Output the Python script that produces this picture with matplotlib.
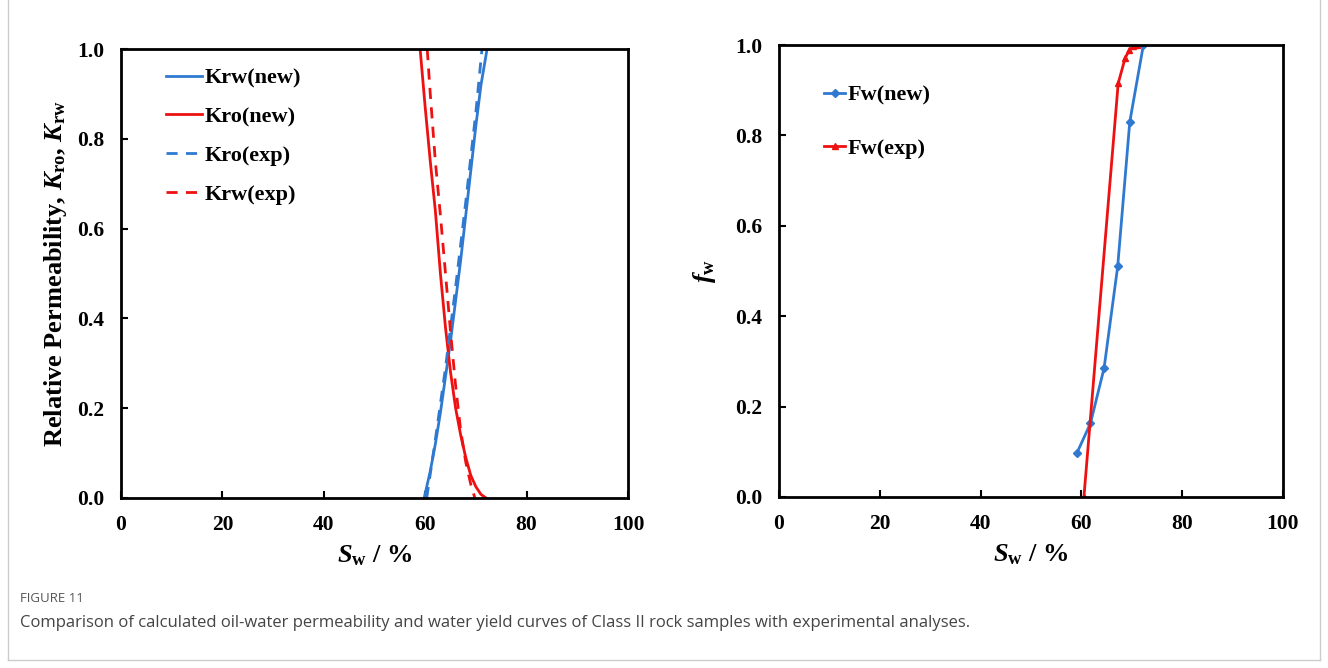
import matplotlib
matplotlib.use("Agg")
import matplotlib.pyplot as plt
from matplotlib.lines import Line2D

serif = "Liberation Serif"
plt.rcParams["mathtext.fontset"] = "custom"
plt.rcParams["mathtext.rm"] = serif + ":bold"
plt.rcParams["mathtext.it"] = serif + ":italic:bold"
plt.rcParams["mathtext.bf"] = serif + ":bold"

# Datos - permeabilidad relativa (izquierda)
sw_krw_new = [59.8, 61, 62, 63, 64, 65, 66, 67, 68, 69, 70, 71, 72.2]
krw_new = [0.0, 0.06, 0.12, 0.19, 0.27, 0.35, 0.44, 0.53, 0.63, 0.73, 0.83, 0.92, 1.0]

sw_kro_new = [59.0, 60, 61, 62, 63, 64, 65, 66, 67, 68, 69, 70, 71, 72.0]
kro_new = [1.0, 0.87, 0.75, 0.64, 0.50, 0.38, 0.28, 0.20, 0.14, 0.09, 0.05, 0.025, 0.008, 0.0]

sw_kro_exp = [60.3, 62, 64, 66, 68, 70, 71.2]
kro_exp = [0.0, 0.13, 0.29, 0.47, 0.66, 0.86, 1.0]

sw_krw_exp = [60.4, 61, 62, 63, 64, 65, 66, 67, 68, 69, 69.8]
krw_exp = [1.0, 0.9, 0.75, 0.63, 0.5, 0.37, 0.25, 0.15, 0.08, 0.03, 0.0]

# Datos - flujo fraccional (derecha)
sw_fw_new = [59.1, 61.8, 64.5, 67.2, 69.6, 72.3]
fw_new = [0.097, 0.163, 0.285, 0.51, 0.83, 1.0]

sw_fw_exp = [60.5, 67.3, 68.7, 69.5, 70.3, 71.0]
fw_exp = [0.0, 0.915, 0.972, 0.988, 0.997, 1.0]

xticks = [0, 20, 40, 60, 80, 100]
yticks = [0.0, 0.2, 0.4, 0.6, 0.8, 1.0]

azul = "#2f7ad0"
rojo = "#ee1111"

fig = plt.figure(figsize=(13.28, 6.68), dpi=100)
ax1 = fig.add_axes([0.0911, 0.2545, 0.3818, 0.672])
ax2 = fig.add_axes([0.5866, 0.256, 0.3795, 0.6766])

ax1.plot(sw_krw_new, krw_new, color=azul, lw=2, label="Krw(new)")
ax1.plot(sw_kro_new, kro_new, color=rojo, lw=2, label="Kro(new)")
ax1.plot(sw_kro_exp, kro_exp, color=azul, lw=2, ls=(0, (4, 3)), label="Kro(exp)")
ax1.plot(sw_krw_exp, krw_exp, color=rojo, lw=2, ls=(0, (4, 3)), label="Krw(exp)")

ax2.plot(sw_fw_new, fw_new, color=azul, lw=2, marker="D", ms=4, label="Fw(new)")
ax2.plot(sw_fw_exp, fw_exp, color=rojo, lw=2, marker="^", ms=5, label="Fw(exp)")

for ax in (ax1, ax2):
    ax.set_xlim(0, 100)
    ax.set_ylim(0, 1)
    ax.set_xticks(xticks)
    ax.set_yticks(yticks)
    ax.set_xticklabels([str(t) for t in xticks], fontfamily=serif, fontweight="bold", fontsize=15.5)
    ax.set_yticklabels(["%.1f" % t for t in yticks], fontfamily=serif, fontweight="bold", fontsize=15.5)
    ax.tick_params(direction="in", length=5, width=1.5, top=False, right=False, pad=12)
    for s in ax.spines.values():
        s.set_linewidth(2)
    ax.set_xlabel(r"$\mathit{S}_{\mathrm{w}}$ / %", fontfamily=serif, fontweight="bold",
                  fontsize=19, labelpad=6)

ax1.set_ylabel(r"Relative Permeability, $\mathit{K}_{\mathrm{ro}}$, $\mathit{K}_{\mathrm{rw}}$",
               fontfamily=serif, fontweight="bold", fontsize=19, labelpad=6)
ax2.set_ylabel(r"$\mathit{f}_{\mathrm{w}}$", fontfamily=serif, fontweight="bold", fontsize=19, labelpad=12)

ax1.legend(loc="upper left", bbox_to_anchor=(0.05, 1.003), frameon=False, handlelength=1.6,
           handletextpad=0.1, labelspacing=0.82, prop={"family": serif, "weight": "bold", "size": 16})
ax2.legend(loc="upper left", bbox_to_anchor=(0.05, 0.955), frameon=False, handlelength=0.95,
           handletextpad=0.1, labelspacing=1.45, prop={"family": serif, "weight": "bold", "size": 16})

# Borde de la tarjeta
for xs, ys in [([8, 8], [0, 660]), ([1320, 1320], [0, 660]), ([8, 1320], [660, 660])]:
    fig.add_artist(Line2D([x / 1328 for x in xs], [1 - y / 668 for y in ys], color="#cccccc", lw=1))

fig.text(20 / 1328, 1 - 598 / 668, "FIGURE 11", fontfamily="Open Sans", fontsize=9.5,
         color="#555555", va="center")
fig.text(20 / 1328, 1 - 623 / 668,
         "Comparison of calculated oil-water permeability and water yield curves of Class II rock samples with experimental analyses.",
         fontfamily="Open Sans", fontsize=12, color="#444444", va="center")

plt.savefig("out.png", dpi=100)
